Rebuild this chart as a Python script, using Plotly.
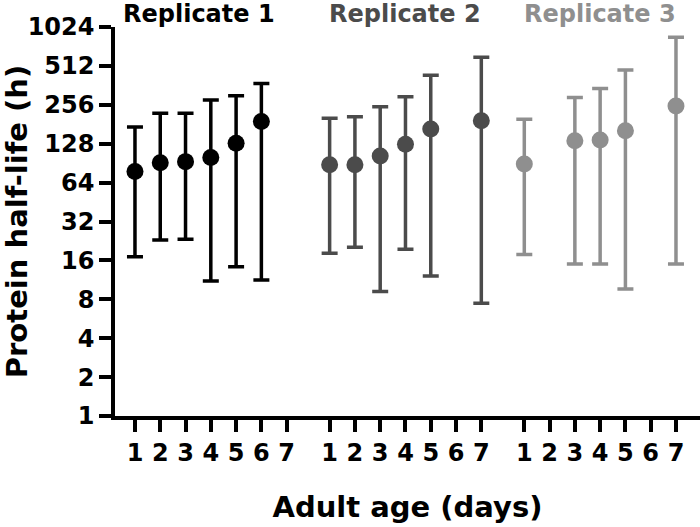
import plotly.graph_objects as go
import math

# ---- data ----
day_labels = ["1", "2", "3", "4", "5", "6", "7"]
replicates = ["Replicate 1", "Replicate 2", "Replicate 3"]
colors = ["#000000", "#4b4b4b", "#8f8f8f"]

days_r1 = [1, 2, 3, 4, 5, 6]
mean_r1 = [78, 91, 93, 100, 129, 190]
upper_r1 = [172, 220, 220, 279, 301, 375]
lower_r1 = [17.1, 23, 23.3, 11.1, 14.3, 11.3]

days_r2 = [1, 2, 3, 4, 5, 7]
mean_r2 = [88, 88, 103, 127, 166, 193]
upper_r2 = [201, 207, 247, 296, 433, 596]
lower_r2 = [18.2, 20.2, 9.2, 19.5, 12.1, 7.45]

days_r3 = [1, 3, 4, 5, 7]
mean_r3 = [89, 135, 137, 161, 251]
upper_r3 = [198, 291, 343, 475, 852]
lower_r3 = [17.8, 15.0, 15.0, 9.6, 15.0]

y_ticks = [1, 2, 4, 8, 16, 32, 64, 128, 256, 512, 1024]

# ---- layout helpers ----
GROUP_OFFSET = 7.7
FONT = "DejaVu Sans"

series = [
    (days_r1, mean_r1, upper_r1, lower_r1),
    (days_r2, mean_r2, upper_r2, lower_r2),
    (days_r3, mean_r3, upper_r3, lower_r3),
]

fig = go.Figure()
tickvals, ticktext = [], []
for g, (days, mean, up, lo) in enumerate(series):
    xs = [d + g * GROUP_OFFSET for d in days]
    fig.add_trace(go.Scatter(
        x=xs, y=mean, mode="markers",
        marker=dict(size=17, color=colors[g]),
        error_y=dict(type="data", symmetric=False,
                     array=[u - m for u, m in zip(up, mean)],
                     arrayminus=[m - l for m, l in zip(mean, lo)],
                     color=colors[g], thickness=3.5, width=8),
        showlegend=False, cliponaxis=False, hoverinfo="skip",
    ))
    for i, lab in enumerate(day_labels):
        tickvals.append(i + 1 + g * GROUP_OFFSET)
        ticktext.append(lab)
    xshift = -12 if g == 0 else 0
    fig.add_annotation(
        x=4 + g * GROUP_OFFSET, y=1.034, xref="x", yref="paper",
        text=f"<b>{replicates[g]}</b>", showarrow=False, xshift=xshift,
        font=dict(family=FONT, size=24, color=colors[g]),
        xanchor="center", yanchor="middle",
    )

fig.update_layout(
    width=700, height=527,
    margin=dict(l=115, r=0, t=27, b=111),
    plot_bgcolor="white", paper_bgcolor="white",
    font=dict(family=FONT, color="black"),
)
fig.update_xaxes(
    range=[0.21, 23.35], showgrid=False, zeroline=False,
    showline=True, linewidth=3.5, linecolor="black",
    ticks="outside", ticklen=12, tickwidth=3.5, tickcolor="black",
    tickvals=tickvals, ticktext=[f"<b>{t}</b>" for t in ticktext],
    tickfont=dict(family=FONT, size=24, color="black"),
    ticklabelstandoff=0,
    title=dict(text="<b>Adult age (days)</b>", font=dict(family=FONT, size=29, color="black"), standoff=32),
)
fig.update_yaxes(
    type="log", range=[0, math.log10(1024)], showgrid=False, zeroline=False,
    showline=True, linewidth=3.5, linecolor="black",
    ticks="outside", ticklen=12, tickwidth=3.5, tickcolor="black",
    tickvals=y_ticks, ticktext=[f"<b>{t}</b>" for t in y_ticks],
    tickfont=dict(family=FONT, size=24, color="black"),
    title=dict(text="<b>Protein half-life (h)</b>", font=dict(family=FONT, size=29, color="black"), standoff=1),
)

fig.write_html("out.html", config={"displayModeBar": False},
               post_script="document.body.style.margin='0px';document.body.style.overflow='hidden';")
